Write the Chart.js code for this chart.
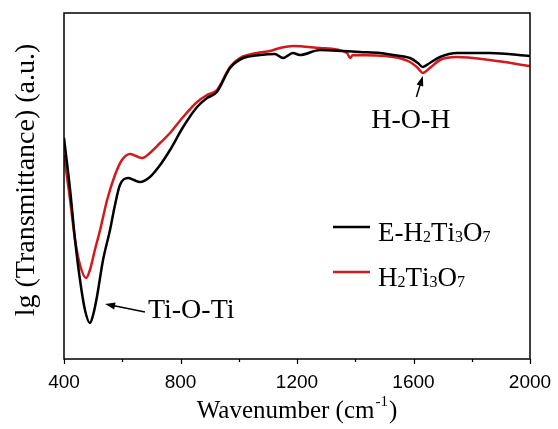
<!DOCTYPE html>
<html>
<head>
<meta charset="utf-8">
<script src="https://cdn.jsdelivr.net/npm/chart.js@4.4.0/dist/chart.umd.min.js"></script>
<style>
  html, body { margin: 0; padding: 0; background: #fff; }
  #wrap { width: 558px; height: 429px; }
</style>
</head>
<body>
<div id="wrap"><canvas id="chartFtir"></canvas></div>
<script>
// series names (digits are drawn as subscripts)
const seriesNames = ['E-H2Ti3O7', 'H2Ti3O7']
const seriesColors = ['#000000', '#d3191c']

// E-H2Ti3O7 (black)
const waveE = [400, 421, 438, 455, 472, 489, 500, 513, 534, 558, 575, 592, 620, 640, 661, 695, 730, 764, 809, 857, 891, 925, 970, 1015, 1073, 1124, 1152, 1186, 1210, 1279, 1358, 1416, 1485, 1530, 1588, 1615, 1632, 1656, 1691, 1749, 1862, 2000]
const transE = [221, 169, 119, 79, 49, 36, 44, 62, 99, 129, 154, 174, 181, 179, 177, 182, 194, 209, 232, 252, 261, 267, 291, 301, 304, 305, 301, 306, 304, 309, 308, 307, 306, 304, 301, 296, 292, 296, 302, 306, 306, 303]

// H2Ti3O7 (red)
const waveH = [400, 421, 438, 455, 476, 489, 506, 524, 548, 575, 599, 627, 647, 668, 695, 730, 764, 809, 857, 891, 925, 970, 1004, 1063, 1107, 1142, 1186, 1279, 1372, 1382, 1392, 1530, 1588, 1615, 1632, 1656, 1691, 1749, 1862, 2000]
const transH = [204, 159, 119, 94, 81, 89, 109, 129, 159, 184, 199, 205, 203, 201, 206, 216, 226, 242, 257, 264, 269, 292, 301, 306, 308, 311, 313, 311, 306, 301, 304, 302, 297, 291, 286, 291, 299, 302, 299, 293]

const xMajor = [400, 800, 1200, 1600, 2000]
const xMinor = [600, 1000, 1400, 1800]

function pts(xs, ys) {
    return xs.map((x, i) => ({ x: x, y: ys[i] }))
}

const serif = "'Liberation Serif', 'Times New Roman', serif"
const sans = "'Liberation Sans', Arial, sans-serif"

// text with digits as subscripts
function chemText(ctx, str, x, y, size) {
    for (const ch of str) {
        if (/[0-9]/.test(ch)) {
            ctx.font = Math.round(size * 0.6) + 'px ' + serif
            ctx.fillText(ch, x, y + size * 0.05)
        } else {
            ctx.font = size + 'px ' + serif
            ctx.fillText(ch, x, y)
        }
        x += ctx.measureText(ch).width
    }
}

function arrow(ctx, x1, y1, x2, y2) {
    const a = Math.atan2(y2 - y1, x2 - x1)
    const hl = 10, hw = 3.5
    ctx.beginPath()
    ctx.moveTo(x1, y1)
    ctx.lineTo(x2 - Math.cos(a) * hl * 0.8, y2 - Math.sin(a) * hl * 0.8)
    ctx.lineWidth = 1.5
    ctx.stroke()
    ctx.beginPath()
    ctx.moveTo(x2, y2)
    ctx.lineTo(x2 - Math.cos(a) * hl - Math.sin(a) * hw, y2 - Math.sin(a) * hl + Math.cos(a) * hw)
    ctx.lineTo(x2 - Math.cos(a) * hl + Math.sin(a) * hw, y2 - Math.sin(a) * hl - Math.cos(a) * hw)
    ctx.closePath()
    ctx.fill()
}

const decor = {
    id: 'decor',
    afterDraw(chart) {
        const ctx = chart.ctx
        const a = chart.chartArea
        const xs = chart.scales.x, ys = chart.scales.y
        ctx.save()
        ctx.strokeStyle = '#000'
        ctx.fillStyle = '#000'

        // frame
        ctx.lineWidth = 1.5
        ctx.strokeRect(a.left, a.top, a.right - a.left, a.bottom - a.top)

        // ticks
        ctx.lineWidth = 1.2
        xMajor.concat(xMinor).forEach(v => {
            const px = Math.round(xs.getPixelForValue(v)) + 0.5
            const len = xMajor.includes(v) ? 5 : 3
            ctx.beginPath()
            ctx.moveTo(px, a.bottom)
            ctx.lineTo(px, a.bottom + len)
            ctx.stroke()
        })

        // x title with superscript
        ctx.textBaseline = 'alphabetic'
        ctx.textAlign = 'left'
        const t1 = 'Wavenumber (cm', sup = '-1', t2 = ')'
        ctx.font = '25px ' + serif
        const w1 = ctx.measureText(t1).width, w3 = ctx.measureText(t2).width
        ctx.font = '15px ' + serif
        const w2 = ctx.measureText(sup).width
        let tx = (a.left + a.right) / 2 - (w1 + w2 + w3 + 2) / 2
        ctx.font = '25px ' + serif
        ctx.fillText(t1, tx, 418)
        ctx.font = '15px ' + serif
        ctx.fillText(sup, tx + w1 + 1, 406)
        ctx.font = '25px ' + serif
        ctx.fillText(t2, tx + w1 + w2 + 2, 418)

        // y title
        ctx.save()
        ctx.translate(34, (a.top + a.bottom) / 2 - 6)
        ctx.rotate(-Math.PI / 2)
        ctx.textAlign = 'center'
        ctx.font = '28px ' + serif
        ctx.fillText('lg (Transmittance) (a.u.)', 0, 0)
        ctx.restore()

        // legend
        const legY = [227, 272]
        seriesNames.forEach((name, i) => {
            ctx.strokeStyle = seriesColors[i]
            ctx.lineWidth = 2.5
            ctx.beginPath()
            ctx.moveTo(a.right - 197, legY[i])
            ctx.lineTo(a.right - 160, legY[i])
            ctx.stroke()
            ctx.fillStyle = '#000'
            chemText(ctx, name, a.right - 152, legY[i] + 14, 27)
        })

        // annotations
        ctx.strokeStyle = '#000'
        ctx.fillStyle = '#000'
        ctx.font = '28px ' + serif
        ctx.textAlign = 'center'
        ctx.fillText('H-O-H', xs.getPixelForValue(1591), ys.getPixelForValue(231))
        arrow(ctx, xs.getPixelForValue(1610), ys.getPixelForValue(262),
            xs.getPixelForValue(1632), ys.getPixelForValue(283))
        ctx.textAlign = 'left'
        ctx.fillText('Ti-O-Ti', xs.getPixelForValue(688), ys.getPixelForValue(41))
        arrow(ctx, xs.getPixelForValue(678), ys.getPixelForValue(47),
            xs.getPixelForValue(541), ys.getPixelForValue(55))
        ctx.restore()
    }
}

const ctxFtir = document.getElementById('chartFtir').getContext('2d')
const chartFtir = new Chart(ctxFtir, {
    type: 'line',
    data: {
        datasets: [
            { label: seriesNames[0], data: pts(waveE, transE), borderColor: seriesColors[0], borderWidth: 2.5, pointRadius: 0, cubicInterpolationMode: 'monotone' },
            { label: seriesNames[1], data: pts(waveH, transH), borderColor: seriesColors[1], borderWidth: 2.5, pointRadius: 0, cubicInterpolationMode: 'monotone' }
        ]
    },
    options: {
        responsive: true,
        maintainAspectRatio: false,
        animation: false,
        layout: { padding: { left: 64, top: 13, right: 28, bottom: 0 } },
        plugins: { legend: { display: false }, tooltip: { enabled: false } },
        scales: {
            x: {
                type: 'linear', min: 400, max: 2000,
                afterFit: s => { s.height = 70 },
                grid: { display: false },
                border: { display: false },
                ticks: {
                    stepSize: 400, autoSkip: false, maxRotation: 0, padding: 4, color: '#000',
                    font: { family: sans, size: 19 },
                    callback: v => String(v)
                }
            },
            y: { display: false, min: 0, max: 346 }
        }
    },
    plugins: [decor]
})
</script>
</body>
</html>
